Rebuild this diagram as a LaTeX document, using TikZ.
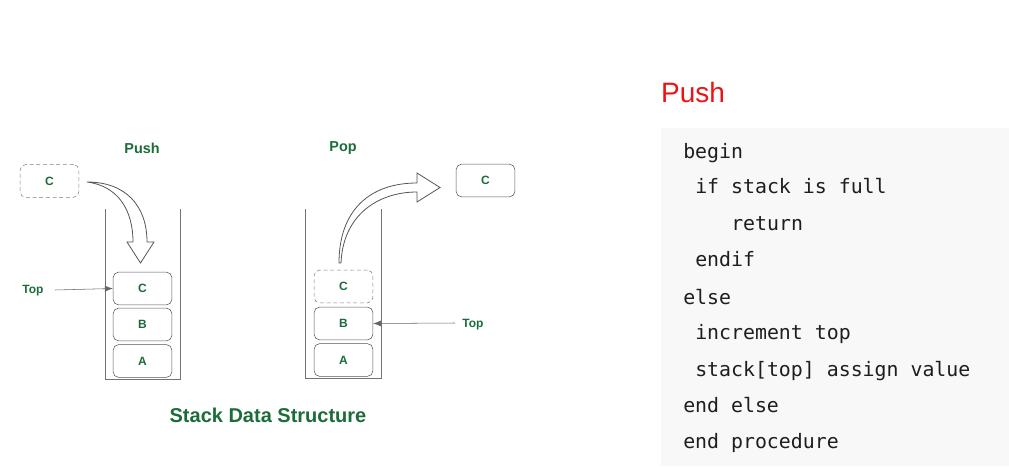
\documentclass[tikz,border=0pt]{standalone}
\usepackage{fontspec}
\setmainfont{Liberation Sans}
\setmonofont{DejaVu Sans Mono}
\usetikzlibrary{arrows.meta}
\definecolor{gfggreen}{RGB}{28,108,58}
\definecolor{boxline}{RGB}{85,85,85}
\definecolor{codebg}{RGB}{248,248,248}
\definecolor{codetext}{RGB}{30,30,30}
\definecolor{pushred}{RGB}{235,20,20}

\begin{document}
\begin{tikzpicture}[x=0.75pt, y=-0.75pt]
\tikzstyle{cell}=[draw=boxline, rounded corners=4pt, minimum width=44pt, minimum height=24.5pt, inner sep=0pt, text=gfggreen, font=\fontsize{9}{10}\selectfont\bfseries]
\tikzstyle{ghost}=[cell, densely dashed, draw=gray]
\tikzstyle{lbl}=[text=gfggreen, font=\fontsize{9}{10}\selectfont\bfseries]
\tikzstyle{title}=[text=gfggreen, font=\fontsize{10.8}{12}\selectfont\bfseries]
\tikzstyle{hollow}=[draw=boxline, fill=white, line width=0.6pt]
\tikzstyle{code}=[anchor=base west, inner sep=0pt, text=codetext, font=\ttfamily\fontsize{14.9}{16}\selectfont]

\useasboundingbox (0,0) rectangle (1009,470);

% push side
\draw (142,148) node[title] (pushtitle) {Push};
\draw (49.5,181) node[ghost] (pushnew) {C};
\draw[gray!90!black] (105,209) -- (105,379) -- (180,379) -- (180,209);
\draw (142.5,361) node[cell] (pushA) {A};
\draw (142.5,324.5) node[cell] (pushB) {B};
\draw (142.5,288.5) node[cell] (pushC) {C};
\draw (33,291) node[lbl] (toppush) {Top};
\draw[-{Latex[length=6pt,width=4.5pt]}, gray!80!black] (toppush) ++(22,-1) -- (pushC.west);
\draw[hollow] (87,182) .. controls (125,182) and (147,205) .. (147,242) -- (154,242) -- (140.5,263)
  -- (127,242) -- (133,242) .. controls (133,210) and (118,186) .. (87,182) -- cycle;

% pop side
\draw (343,148) node[title] (poptitle) {Pop};
\draw[gray!90!black] (305,209) -- (305,378) -- (381,378) -- (381,209);
\draw (343.5,360) node[cell] (popA) {A};
\draw (343.5,323.5) node[cell] (popB) {B};
\draw (343.5,286.5) node[ghost] (popC) {C};
\draw (485.5,180.5) node[cell] (popout) {C};
\draw (473,325) node[lbl] (toppop) {Top};
\draw[-{Latex[length=6pt,width=4.5pt]}, gray!80!black] (toppop) ++(-18,-2) -- (popB.east);
\draw[hollow] (339,263) .. controls (339,210) and (370,183) .. (417,183) -- (417,173) -- (440,187.5)
  -- (417,202) -- (417,192) .. controls (378,192) and (343,215) .. (341,263) -- cycle;

\draw (268,415) node[text=gfggreen, font=\fontsize{15}{17}\selectfont\bfseries] (caption) {Stack Data Structure};

% pseudocode
\draw (693,92) node[text=pushred, font=\fontsize{21}{24}\selectfont] (codehead) {Push};
\fill[codebg] (661,128) rectangle (1009,466);
\draw (683,159) node[code] (l1) {begin};
\draw (695,194) node[code] (l2) {if stack is full};
\draw (731,230) node[code] (l3) {return};
\draw (695,267) node[code] (l4) {endif};
\draw (683,304) node[code] (l5) {else};
\draw (695,339) node[code] (l6) {increment top};
\draw (695,376) node[code] (l7) {stack[top] assign value};
\draw (683,412) node[code] (l8) {end else};
\draw (683,448) node[code] (l9) {end procedure};
\end{tikzpicture}
\end{document}
